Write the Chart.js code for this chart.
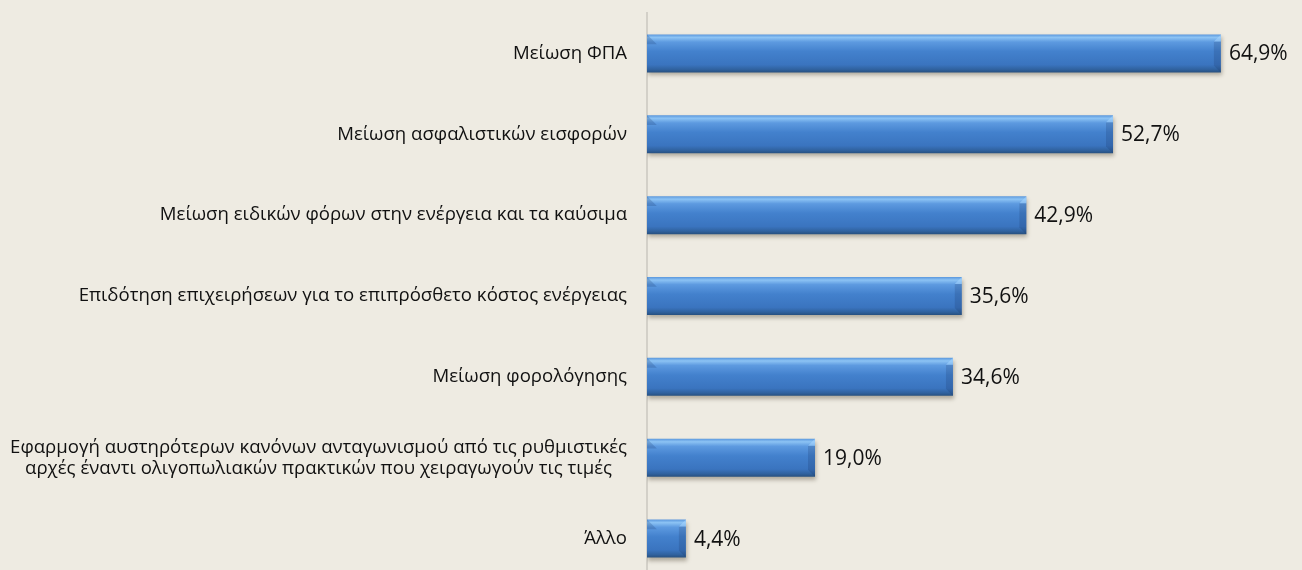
<!DOCTYPE html>
<html>
<head>
<meta charset="utf-8">
<script src="https://cdn.jsdelivr.net/npm/chart.js@4.4.1/dist/chart.umd.min.js"></script>
<style>
  html, body { margin: 0; padding: 0; background: #eeebe2; overflow: hidden; }
  #wrap { width: 1302px; height: 570px; overflow: hidden; }
</style>
</head>
<body>
<div id="wrap"><canvas id="chart" width="1302" height="582"></canvas></div>
<script>
const categories = [
  "Μείωση ΦΠΑ",
  "Μείωση ασφαλιστικών εισφορών",
  "Μείωση ειδικών φόρων στην ενέργεια και τα καύσιμα",
  "Επιδότηση επιχειρήσεων για το επιπρόσθετο κόστος ενέργειας",
  "Μείωση φορολόγησης",
  ["Εφαρμογή αυστηρότερων κανόνων ανταγωνισμού από τις ρυθμιστικές", "αρχές έναντι ολιγοπωλιακών πρακτικών που χειραγωγούν τις τιμές"],
  "Άλλο",
];
const shares = [64.9, 52.7, 42.9, 35.6, 34.6, 19.0, 4.4];

const FONT = "'Open Sans', 'Noto Sans', sans-serif";
const LABEL_SIZE = 18.6;
const LABEL_LINE = 1.13;
const BAR_PCT = 0.47;

function formatPct(v) {
  return v.toFixed(1).replace(".", ",") + "%";
}

// vertical glossy gradient, computed per bar from the category scale
function barFill(c) {
  const yScale = c.chart.scales.y;
  if (!yScale || !yScale.height) return "#3f7cc8";
  const center = yScale.getPixelForValue(c.dataIndex);
  const half = (yScale.height / categories.length) * BAR_PCT / 2;
  const g = c.chart.ctx.createLinearGradient(0, center - half, 0, center + half);
  g.addColorStop(0, "#5a97dd");
  g.addColorStop(0.08, "#8cc3f4");
  g.addColorStop(0.2, "#5d9ae0");
  g.addColorStop(0.45, "#4381cd");
  g.addColorStop(0.8, "#3a74bf");
  g.addColorStop(0.92, "#30629f");
  g.addColorStop(1, "#27507f");
  return g;
}

const barStyle = {
  id: "barStyle",
  beforeDatasetsDraw(chart) {
    const ctx = chart.ctx;
    ctx.save();
    ctx.shadowColor = "rgba(60, 50, 30, 0.35)";
    ctx.shadowBlur = 4;
    ctx.shadowOffsetY = 3;
    ctx.shadowOffsetX = 1;
  },
  afterDatasetsDraw(chart) {
    const ctx = chart.ctx;
    ctx.restore();
    ctx.save();
    const bars = chart.getDatasetMeta(0).data;
    // bevelled ends
    bars.forEach((bar) => {
      const top = bar.y - bar.height / 2;
      const bottom = bar.y + bar.height / 2;
      const b = Math.min(7, (bar.x - bar.base) / 3);
      ctx.fillStyle = "rgba(25, 55, 110, 0.22)";
      ctx.beginPath();
      ctx.moveTo(bar.base, top);
      ctx.lineTo(bar.base + b * 1.4, top + b * 1.4);
      ctx.lineTo(bar.base, top + b * 1.4);
      ctx.closePath();
      ctx.fill();
      ctx.fillStyle = "rgba(20, 45, 90, 0.18)";
      ctx.beginPath();
      ctx.moveTo(bar.x, top + b);
      ctx.lineTo(bar.x - b, top + b);
      ctx.lineTo(bar.x - b, bottom - b);
      ctx.lineTo(bar.x, bottom);
      ctx.closePath();
      ctx.fill();
      ctx.fillStyle = "rgba(170, 215, 255, 0.5)";
      ctx.beginPath();
      ctx.moveTo(bar.x, top);
      ctx.lineTo(bar.x - b, top + b);
      ctx.lineTo(bar.x, top + b);
      ctx.closePath();
      ctx.fill();
    });
    ctx.font = "21px " + FONT;
    ctx.fillStyle = "#111111";
    ctx.textAlign = "left";
    ctx.textBaseline = "middle";
    bars.forEach((bar, i) => {
      ctx.fillText(formatPct(shares[i]), bar.x + 8, bar.y + 1);
    });
    ctx.restore();
  },
  // multi-line category labels are centred on their own block, right edge at the tick padding
  afterDraw(chart) {
    const ctx = chart.ctx;
    const yScale = chart.scales.y;
    ctx.save();
    ctx.font = LABEL_SIZE + "px " + FONT;
    ctx.fillStyle = "#111111";
    ctx.textAlign = "center";
    ctx.textBaseline = "middle";
    categories.forEach((label, i) => {
      if (!Array.isArray(label)) return;
      const widest = Math.max(...label.map((l) => ctx.measureText(l).width));
      const cx = yScale.right - 20 - widest / 2;
      const lh = LABEL_SIZE * LABEL_LINE;
      const y0 = yScale.getPixelForTick(i) - (lh * (label.length - 1)) / 2;
      label.forEach((line, j) => ctx.fillText(line, cx, y0 + j * lh));
    });
    ctx.restore();
  },
};

new Chart(document.getElementById("chart"), {
  type: "bar",
  data: {
    labels: categories,
    datasets: [
      {
        data: shares,
        backgroundColor: barFill,
        borderWidth: 0,
        categoryPercentage: 1,
        barPercentage: BAR_PCT,
      },
    ],
  },
  options: {
    indexAxis: "y",
    responsive: false,
    animation: false,
    layout: { padding: { top: 13, right: 36, bottom: 3, left: 0 } },
    plugins: {
      legend: { display: false },
      tooltip: { enabled: false },
    },
    scales: {
      x: { display: false, min: 0, max: 70 },
      y: {
        afterFit(scale) {
          scale.width = 647;
          scale.paddingTop = 0;
          scale.paddingBottom = 0;
        },
        grid: { display: false, drawTicks: false },
        border: { display: true, color: "#d3d0c8", width: 2 },
        ticks: {
          padding: 20,
          color: (c) => (Array.isArray(categories[c.index]) ? "rgba(0,0,0,0)" : "#111111"),
          font: { family: FONT, size: LABEL_SIZE, lineHeight: LABEL_LINE },
        },
      },
    },
  },
  plugins: [barStyle],
});
</script>
</body>
</html>
